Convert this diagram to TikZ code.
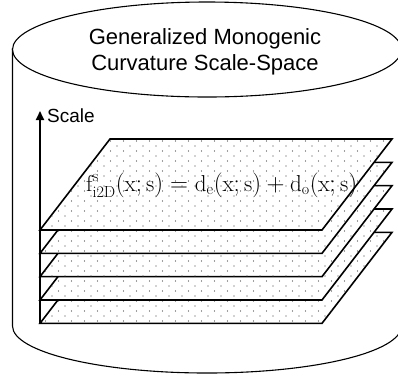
\documentclass[tikz,border=0pt]{standalone}
\usepackage{fontspec}
\setsansfont{Liberation Sans}
\usetikzlibrary{patterns,arrows.meta}

\pgfdeclarepatternformonly{sparsedots}{\pgfqpoint{-1pt}{-1pt}}{\pgfqpoint{12pt}{9pt}}{\pgfqpoint{13pt}{10pt}}{%
  \pgfpathcircle{\pgfpointorigin}{0.6pt}
  \pgfpathcircle{\pgfqpoint{6.5pt}{5pt}}{0.6pt}\pgfusepath{fill}}

\tikzset{
  layer/.style={draw,line width=1.6pt,line join=miter,fill=white,
    postaction={pattern=sparsedots,pattern color=black!75}},
  drum/.style={line width=1.1pt}
}

\begin{document}
\begin{tikzpicture}[x=1pt,y=-1pt]
\useasboundingbox (0,0) rectangle (398,376);
\clip (0,0) rectangle (398,376);
% the can
\draw[drum] (12.5,48) -- (12.5,326) arc[start angle=180,end angle=360,x radius=194.5pt,y radius=47pt] -- (401.5,48);
\draw[drum,fill=white] (207,49.5) ellipse[x radius=194.5,y radius=47.5];
\node[font=\sffamily\fontsize{22}{26}\selectfont,align=center] (title) at (205,52) {Generalized Monogenic\\Curvature Scale-Space};
% stacked layers, lowest first
\foreach \k in {4,3,2,1,0}{
  \pgfmathsetmacro{\dy}{\k*23.33}
  \draw[layer] (40,230+\dy) -- (322,230+\dy) -- (392,139+\dy) -- (110,139+\dy) -- cycle;
}
\node[anchor=base west,inner sep=0pt,font=\fontsize{23}{27}\selectfont] (eq) at (86,191)
  {$\mathrm{f}^{\mathrm{s}}_{\mathrm{i2D}}(\mathrm{x};\mathrm{s})=\mathrm{d}_{\mathrm{e}}(\mathrm{x};\mathrm{s})+\mathrm{d}_{\mathrm{o}}(\mathrm{x};\mathrm{s})$};
% scale axis
\coordinate (axisfoot) at (40,323.3);
\coordinate (axistop) at (40,111);
\draw[line width=1.8pt,-{Triangle[width=8pt,length=9pt]}] (axisfoot) -- (axistop);
\node[anchor=west,font=\sffamily\fontsize{19}{22}\selectfont,inner sep=0pt] (scale) at (47,116) {Scale};
\end{tikzpicture}
\end{document}
